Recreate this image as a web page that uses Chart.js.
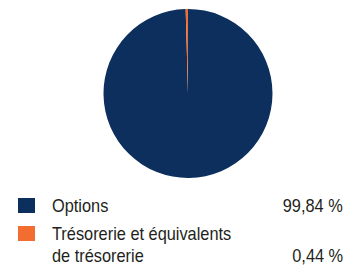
<!DOCTYPE html>
<html>
<head>
<meta charset="utf-8">
<script src="https://cdn.jsdelivr.net/npm/chart.js@4"></script>
<style>
  body { margin: 0; background: #fff; }
  #wrap { position: relative; width: 355px; height: 267px; overflow: hidden; font-family: "Liberation Sans", Arial, sans-serif; color: #231f20; }
  #pie { position: absolute; left: 99px; top: 9px; width: 178px; height: 169px; }
  .item { position: absolute; left: 0; width: 355px; font-size: 19px; line-height: 22px; }
  .box { position: absolute; left: 18px; top: 3px; width: 17px; height: 15px; }
  .lbl { position: absolute; left: 52px; white-space: nowrap; transform: scaleX(0.86); transform-origin: left top; }
  .pct { position: absolute; right: 12px; white-space: nowrap; transform: scaleX(0.86); transform-origin: right top; }
</style>
</head>
<body>
<div id="wrap">
  <div id="pie"><canvas id="chart"></canvas></div>
  <div id="legend"></div>
</div>
<script>
const labels = [['Options'], ['Trésorerie et équivalents', 'de trésorerie']];
const shares = [99.84, 0.44];
const colors = ['#0c2f5e', '#f26d2f'];

new Chart(document.getElementById('chart'), {
  type: 'pie',
  data: {
    labels: labels,
    datasets: [{
      data: shares,
      backgroundColor: colors,
      borderWidth: 0,
    }],
  },
  options: {
    responsive: true,
    maintainAspectRatio: false,
    animation: false,
    layout: { padding: 0 },
    plugins: {
      legend: { display: false },
      tooltip: { enabled: false },
    },
  },
});

// legend below the pie
const legend = document.getElementById('legend');
const rowTops = [195, 223];
labels.forEach((lines, i) => {
  const row = document.createElement('div');
  row.className = 'item';
  row.style.top = rowTops[i] + 'px';

  const box = document.createElement('div');
  box.className = 'box';
  box.style.background = colors[i];
  row.appendChild(box);

  const lbl = document.createElement('div');
  lbl.className = 'lbl';
  lbl.innerHTML = lines.join('<br>');
  row.appendChild(lbl);

  const pct = document.createElement('div');
  pct.className = 'pct';
  pct.style.top = (lines.length - 1) * 22 + 'px';
  pct.textContent = shares[i].toFixed(2).replace('.', ',') + ' %';
  row.appendChild(pct);

  legend.appendChild(row);
});
</script>
</body>
</html>
